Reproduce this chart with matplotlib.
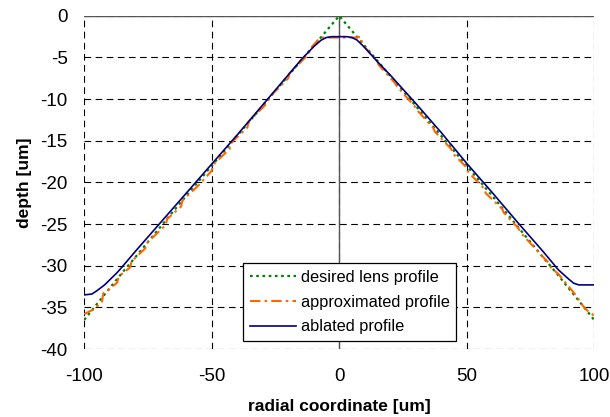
import matplotlib
matplotlib.use("Agg")
import matplotlib.pyplot as plt

plt.rcParams['font.family'] = ['Liberation Sans', 'DejaVu Sans']
plt.rcParams['axes.unicode_minus'] = False

# desired lens profile (cone)
r_desired = [-100, -95, -90, -85, -80, -70, -60, -50, -40, -30, -20, -10, 0,
             10, 20, 30, 40, 50, 60, 70, 80, 85, 90, 95, 100]
depth_desired = [-36.5, -34.6, -32.7, -30.8, -29.0, -25.3, -21.6, -18.0, -14.4, -10.8, -7.2, -3.6, 0.0,
                 -3.6, -7.2, -10.8, -14.4, -18.0, -21.6, -25.3, -29.0, -30.8, -32.7, -34.6, -36.5]

# approximated (stepped) profile
r_approx = [-100, -96, -93, -92.5, -90, -87, -86.5, -84, -82, -81.5, -76, -75.5, -70, -68, -67.5,
            -62, -61.5, -55, -50, -49.5, -43, -42.5, -36, -35.5, -28, -27.5, -20, -19.5, -12, -11.5,
            -8, -7, 7, 8.5, 9, 15, 15.5, 22, 22.5, 30, 30.5, 37, 37.5, 44, 44.5, 50, 50.5, 57, 57.5,
            64, 64.5, 70, 72, 78, 82, 83, 86, 90, 93, 95, 97, 100]
depth_approx = [-35.8, -35.2, -34.3, -33.3, -32.8, -32.0, -31.3, -30.7, -30.2, -29.5, -27.9, -27.3, -25.7, -25.1, -24.4,
                -22.9, -22.2, -20.3, -18.6, -17.9, -16.0, -15.3, -13.4, -12.7, -10.4, -9.8, -7.5, -6.9, -4.6, -4.0,
                -2.8, -2.6, -2.6, -2.5, -3.4, -5.5, -5.9, -8.1, -8.4, -11.0, -11.3, -13.5, -13.9, -16.0, -16.5, -18.2, -18.7,
                -20.8, -21.3, -23.2, -23.6, -25.4, -26.3, -28.3, -29.6, -30.2, -31.0, -32.5, -33.6, -34.6, -35.3, -36.0]

# ablated profile
r_ablated = [-100, -97, -95, -92, -90, -87, -85, -80, -70, -60, -50, -40, -30, -20, -15, -10, -7, -5, -3,
             3, 5, 7, 10, 15, 20, 30, 40, 50, 60, 70, 80, 86, 90, 92, 94, 100]
depth_ablated = [-33.5, -33.4, -33.0, -32.3, -31.7, -30.8, -30.1, -28.3, -24.8, -21.3, -17.8, -14.3, -10.7, -7.1, -5.3, -3.7, -2.9, -2.6, -2.5,
                 -2.5, -2.6, -2.9, -3.8, -5.5, -7.1, -10.5, -14.0, -17.7, -21.2, -24.8, -28.3, -30.5, -31.6, -32.1, -32.3, -32.3]

fig = plt.figure(figsize=(6.1, 4.17), dpi=100)
ax = fig.add_axes([0.138, 0.163, 0.836, 0.799])

ax.plot(r_desired, depth_desired, color='#008000', linestyle=(0, (1.2, 1.6)), linewidth=1.6,
        label='desired lens profile', zorder=3)
ax.plot(r_approx, depth_approx, color='#FF6600', linestyle=(0, (5, 2, 1.2, 2)), linewidth=1.5,
        label='approximated profile', zorder=4)
ax.plot(r_ablated, depth_ablated, color='#000080', linewidth=1.2,
        label='ablated profile', zorder=5)

ax.set_xlim(-100, 100)
ax.set_ylim(-40, 0)
ax.set_xticks([-100, -50, 0, 50, 100])
ax.set_yticks([0, -5, -10, -15, -20, -25, -30, -35, -40])
ax.tick_params(length=0, labelsize=13.5)
ax.tick_params(axis='x', pad=14)
ax.tick_params(axis='y', pad=12)

for s in ax.spines.values():
    s.set_visible(False)
ax.grid(True, color='black', linestyle=(0, (6, 4)), linewidth=0.8)
ax.axhline(0, color='#555555', linewidth=1.0, zorder=2)
ax.axvline(0, color='#555555', linewidth=1.0, zorder=2)

ax.set_xlabel('radial coordinate [um]', fontsize=12.5, fontweight='bold', labelpad=10)
ax.set_ylabel('depth [um]', fontsize=12.5, fontweight='bold', labelpad=6)

leg = ax.legend(loc='lower left', bbox_to_anchor=(0.312, 0.024), fontsize=11.8,
                fancybox=False, framealpha=1, edgecolor='black', handlelength=2.8,
                handletextpad=0.3, borderpad=0.4, labelspacing=0.6, borderaxespad=0)
leg.get_frame().set_linewidth(0.9)
leg.set_zorder(10)

fig.savefig('out.png', dpi=100)
